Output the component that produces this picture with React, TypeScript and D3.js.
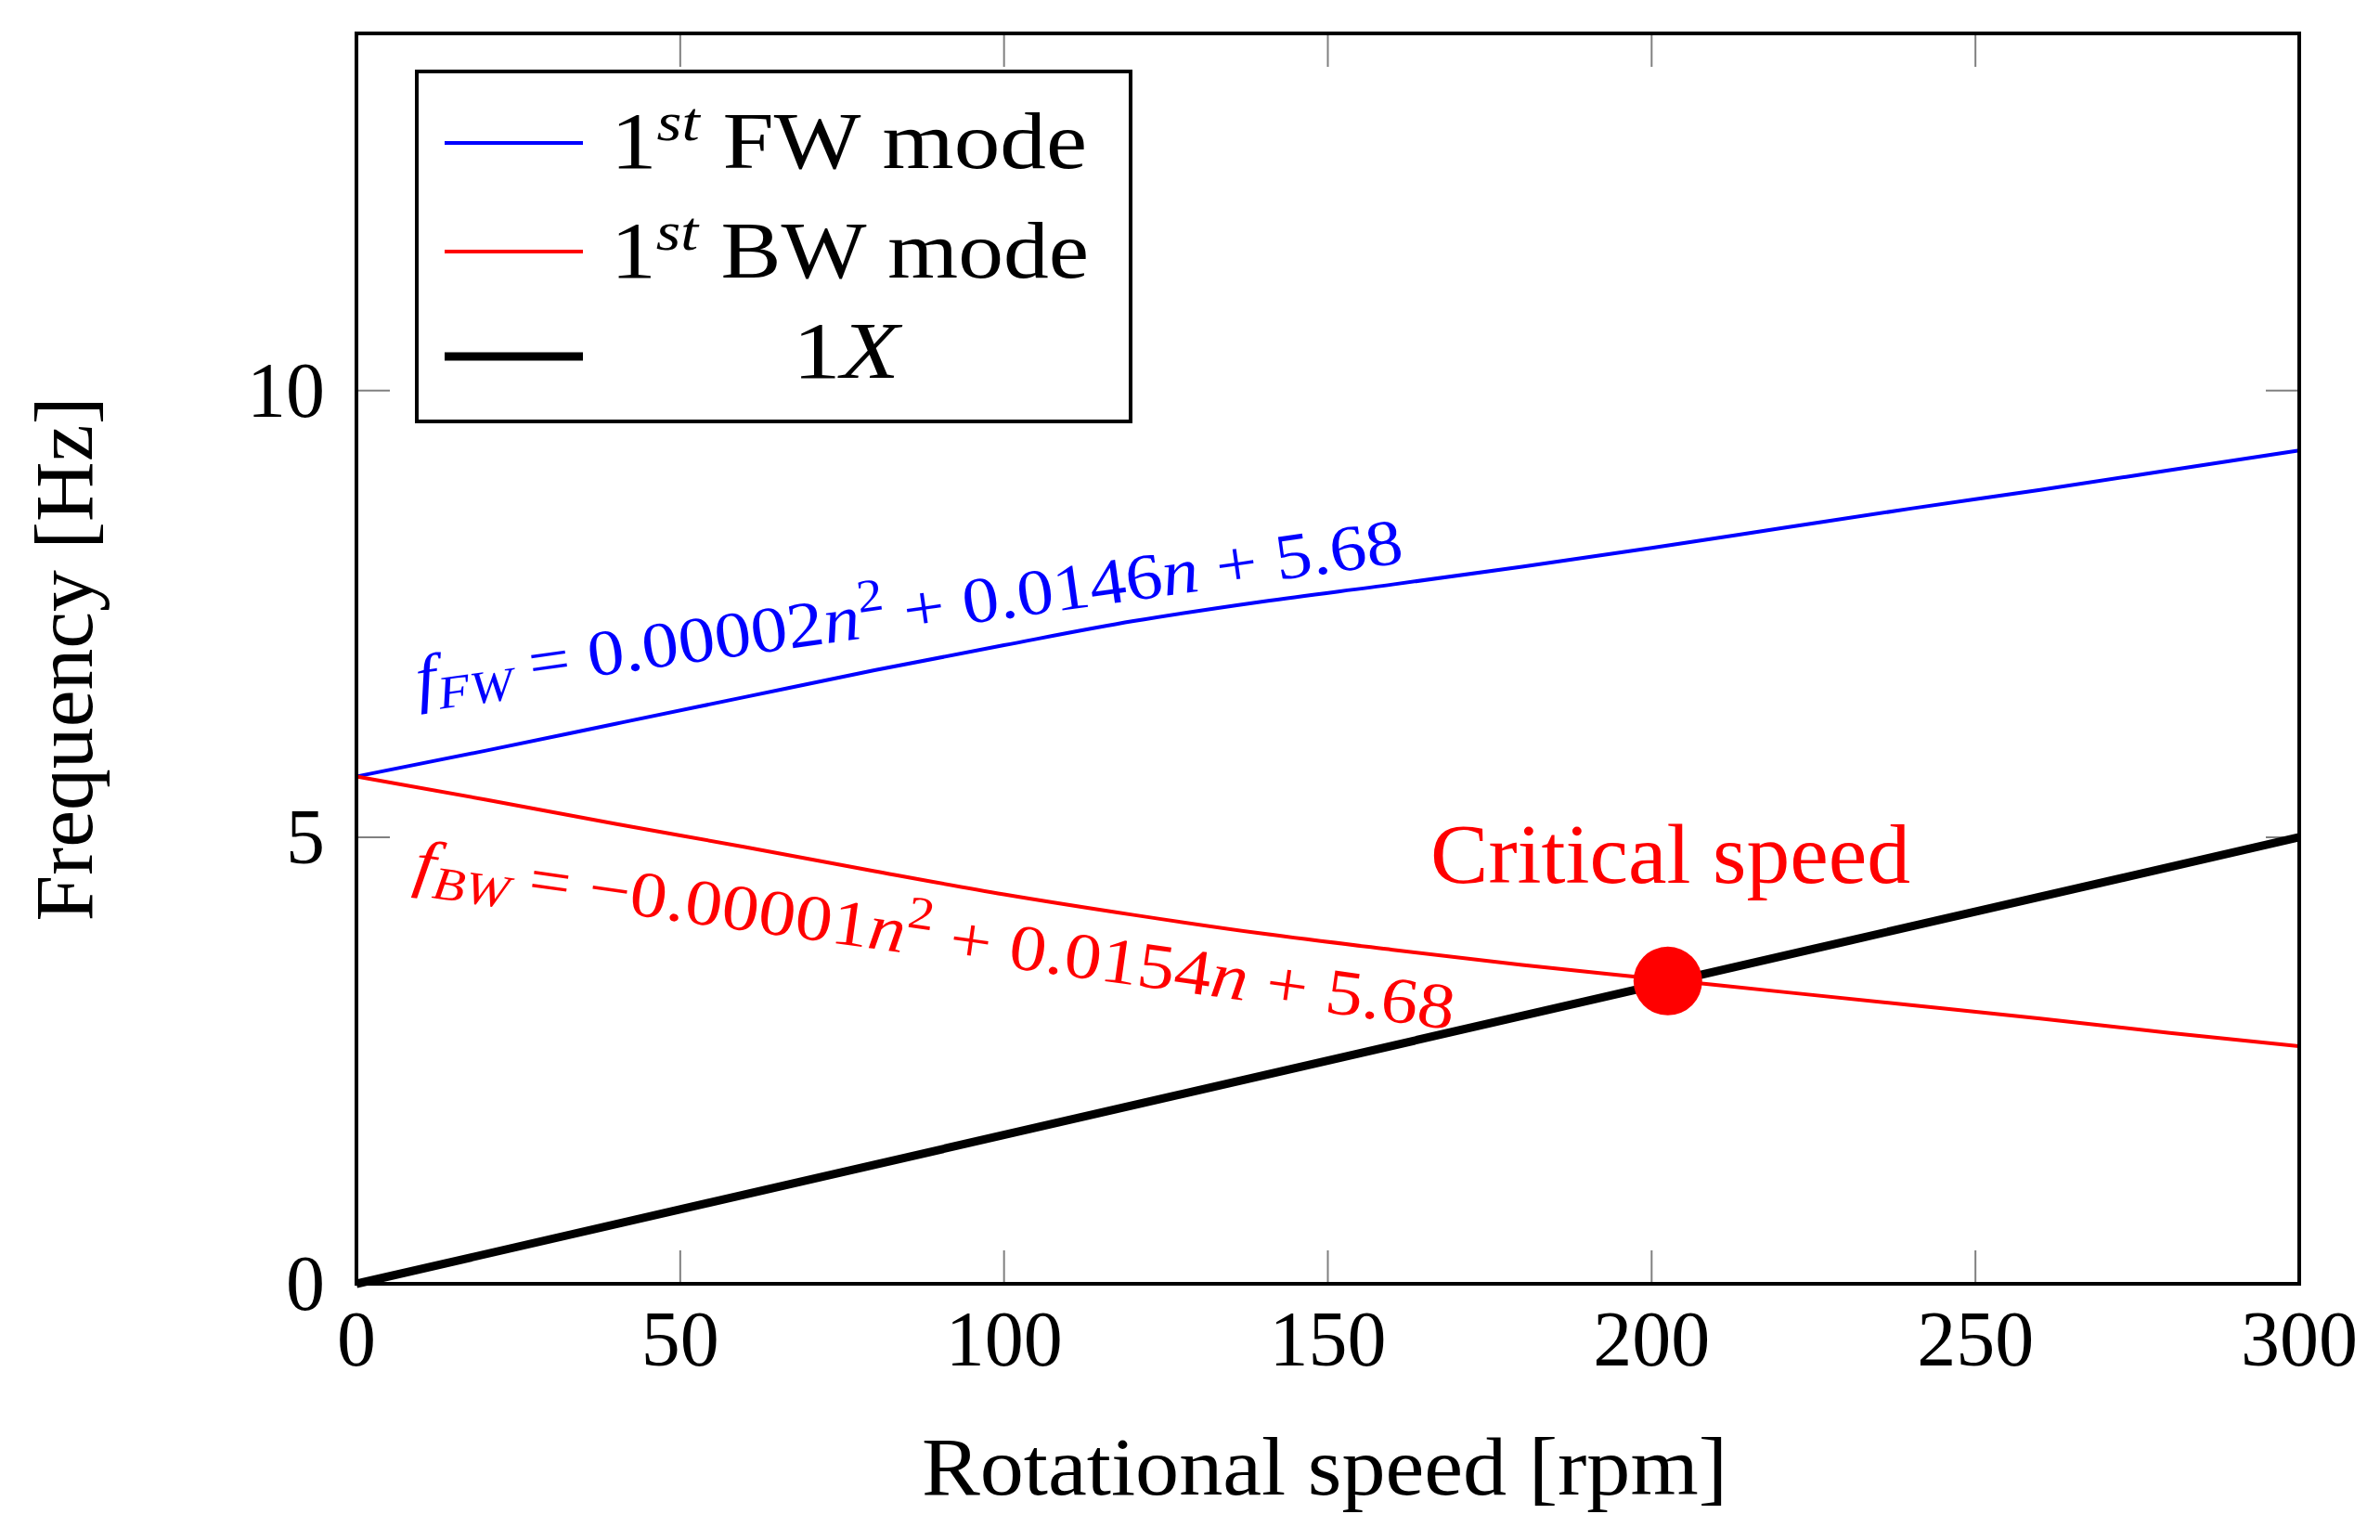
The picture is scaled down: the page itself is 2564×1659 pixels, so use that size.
import React from "react";
import * as d3 from "d3";

// ---- data ----
const speedRpm = [0, 20, 40, 60, 80, 100, 120, 140, 160, 180, 200, 220, 240, 260, 280, 300];
const fwFreq = [5.68, 5.97, 6.27, 6.57, 6.87, 7.15, 7.42, 7.64, 7.83, 8.03, 8.24, 8.46, 8.68, 8.89, 9.11, 9.33];
const bwFreq = [5.68, 5.42, 5.15, 4.89, 4.62, 4.36, 4.13, 3.92, 3.74, 3.57, 3.42, 3.27, 3.12, 2.97, 2.81, 2.66];
const oneXSpeed = [0, 300];
const oneXFreq = [0, 5];
const criticalSpeed = [202.5];
const criticalFreq = [3.39];
const xTicks = [0, 50, 100, 150, 200, 250, 300];
const yTicks = [0, 5, 10];
const legendLabels = ["FW mode", "BW mode", "X"];

const FONT = "'Liberation Serif', 'Times New Roman', serif";

export default function App() {
  const W = 2564;
  const H = 1659;
  const x = d3.scaleLinear().domain([0, 300]).range([384, 2477]);
  const y = d3.scaleLinear().domain([0, 14]).range([1383, 36]);
  const [x0, x1] = x.range();
  const [y0, y1] = y.range();
  const tickLen = 36;

  const line = d3
    .line<[number, number]>()
    .x((d) => x(d[0]))
    .y((d) => y(d[1]))
    .curve(d3.curveMonotoneX);

  const fwPath = line(speedRpm.map((s, i) => [s, fwFreq[i]]) as [number, number][]) || "";
  const bwPath = line(speedRpm.map((s, i) => [s, bwFreq[i]]) as [number, number][]) || "";
  const oneXPath =
    d3
      .line<[number, number]>()
      .x((d) => x(d[0]))
      .y((d) => y(d[1]))(oneXSpeed.map((s, i) => [s, oneXFreq[i]]) as [number, number][]) || "";

  return (
    <svg
      width={W}
      height={H}
      viewBox={`0 0 ${W} ${H}`}
      style={{ position: "absolute", left: 0, top: 0, display: "block", background: "#fff" }}
      fontFamily={FONT}
    >
      <rect x={0} y={0} width={W} height={H} fill="#fff" />

      {/* ticks */}
      <g stroke="#808080" strokeWidth={2}>
        {xTicks.map((t) => (
          <g key={"xt" + t}>
            <line x1={x(t)} x2={x(t)} y1={y0} y2={y0 - tickLen} />
            <line x1={x(t)} x2={x(t)} y1={y1} y2={y1 + tickLen} />
          </g>
        ))}
        {yTicks.map((t) => (
          <g key={"yt" + t}>
            <line x1={x0} x2={x0 + tickLen} y1={y(t)} y2={y(t)} />
            <line x1={x1} x2={x1 - tickLen} y1={y(t)} y2={y(t)} />
          </g>
        ))}
      </g>

      {/* curves */}
      <path d={fwPath} fill="none" stroke="#0000ff" strokeWidth={4} />
      <path d={bwPath} fill="none" stroke="#ff0000" strokeWidth={4} />
      <path d={oneXPath} fill="none" stroke="#000" strokeWidth={9} />

      {/* critical speed point */}
      {criticalSpeed.map((s, i) => (
        <circle key={"cs" + i} cx={x(s)} cy={y(criticalFreq[i])} r={37} fill="#ff0000" />
      ))}

      {/* frame */}
      <rect x={x0} y={y1} width={x1 - x0} height={y0 - y1} fill="none" stroke="#000" strokeWidth={4} />

      {/* tick labels */}
      <g fontSize={84} fill="#000">
        {xTicks.map((t) => (
          <text key={"xl" + t} x={x(t)} y={1471} textAnchor="middle">
            {t}
          </text>
        ))}
        {yTicks.map((t) => (
          <text key={"yl" + t} x={350} y={y(t) + 28} textAnchor="end">
            {t}
          </text>
        ))}
      </g>

      {/* axis labels */}
      <text x={1427} y={1610} fontSize={88} textAnchor="middle" textLength={868} lengthAdjust="spacingAndGlyphs">
        Rotational speed [rpm]
      </text>
      <text
        transform="translate(99,710) rotate(-90)"
        fontSize={88}
        textAnchor="middle"
        textLength={565}
        lengthAdjust="spacingAndGlyphs"
      >
        Frequency [Hz]
      </text>

      {/* annotations */}
      <text
        transform="translate(451,755) rotate(-8)"
        fill="#0000ff"
        fontSize={70}
        textLength={1073}
        lengthAdjust="spacingAndGlyphs"
      >
        <tspan fontStyle="italic">f</tspan>
        <tspan fontStyle="italic" fontSize={50} dy={12}>
          FW
        </tspan>
        <tspan dy={-12}>{" = 0.00002"}</tspan>
        <tspan fontStyle="italic">n</tspan>
        <tspan fontSize={50} dy={-28}>
          2
        </tspan>
        <tspan dy={28}>{" + 0.0146"}</tspan>
        <tspan fontStyle="italic">n</tspan>
        <tspan>{" + 5.68"}</tspan>
      </text>

      <text
        transform="translate(444,952) rotate(8)"
        fill="#ff0000"
        fontSize={70}
        textLength={1131}
        lengthAdjust="spacingAndGlyphs"
      >
        <tspan fontStyle="italic">f</tspan>
        <tspan fontStyle="italic" fontSize={50} dy={12}>
          BW
        </tspan>
        <tspan dy={-12}>{" = \u22120.00001"}</tspan>
        <tspan fontStyle="italic">n</tspan>
        <tspan fontSize={50} dy={-28}>
          2
        </tspan>
        <tspan dy={28}>{" + 0.0154"}</tspan>
        <tspan fontStyle="italic">n</tspan>
        <tspan>{" + 5.68"}</tspan>
      </text>

      <text x={1541} y={951} fill="#ff0000" fontSize={90} textLength={517} lengthAdjust="spacingAndGlyphs">
        Critical speed
      </text>

      {/* legend */}
      <rect x={449} y={77} width={769} height={377} fill="#fff" stroke="#000" strokeWidth={4} />
      <line x1={479} x2={628} y1={154} y2={154} stroke="#0000ff" strokeWidth={4} />
      <line x1={479} x2={628} y1={271} y2={271} stroke="#ff0000" strokeWidth={4} />
      <line x1={479} x2={628} y1={384} y2={384} stroke="#000" strokeWidth={9} />
      <g fontSize={86} fill="#000">
        <text x={658} y={181} textLength={513} lengthAdjust="spacingAndGlyphs">
          1
          <tspan fontSize={60} fontStyle="italic" dy={-30}>
            st
          </tspan>
          <tspan dy={30}>{" " + legendLabels[0]}</tspan>
        </text>
        <text x={658} y={299} textLength={515} lengthAdjust="spacingAndGlyphs">
          1
          <tspan fontSize={60} fontStyle="italic" dy={-30}>
            st
          </tspan>
          <tspan dy={30}>{" " + legendLabels[1]}</tspan>
        </text>
        <text x={854} y={407} textLength={115} lengthAdjust="spacingAndGlyphs">
          1<tspan fontStyle="italic">{legendLabels[2]}</tspan>
        </text>
      </g>
    </svg>
  );
}
